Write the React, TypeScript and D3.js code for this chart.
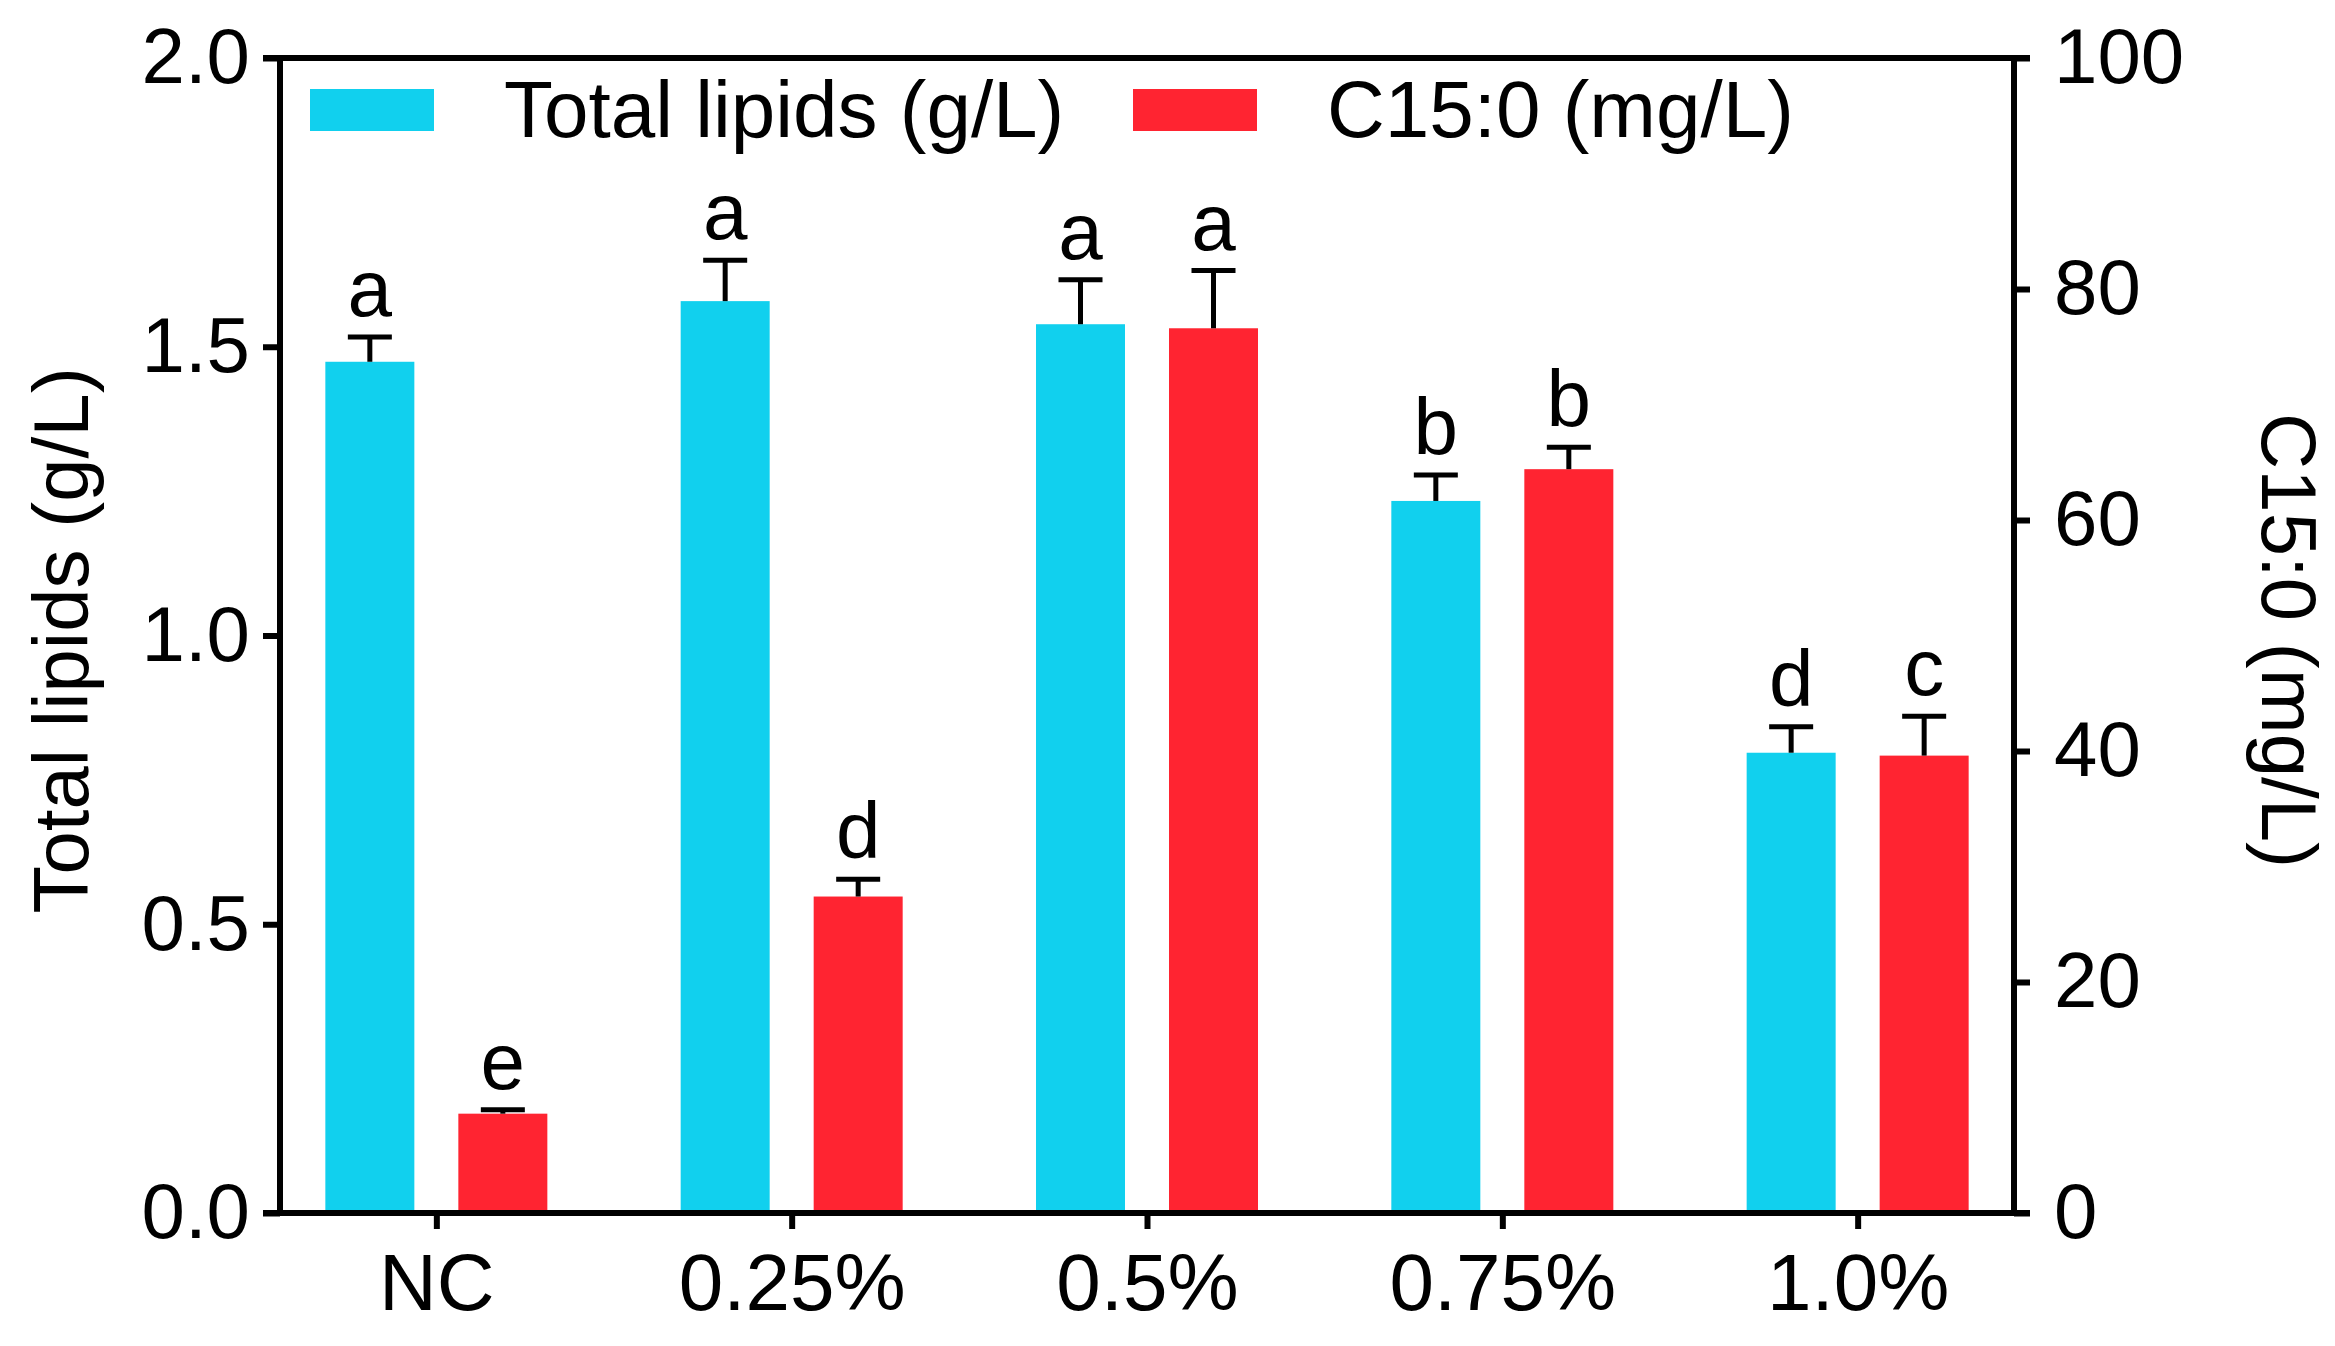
import React, { useRef, useEffect } from 'react';
import * as d3 from 'd3';

const categories = ['NC', '0.25%', '0.5%', '0.75%', '1.0%'];
const lipids = [1.474, 1.579, 1.539, 1.233, 0.797]; // g/L
const lipidsErr = [0.043, 0.071, 0.077, 0.045, 0.045];
const c15 = [8.6, 27.4, 76.6, 64.4, 39.6]; // mg/L
const c15Err = [0.35, 1.5, 5.0, 1.9, 3.4];
const lipidsLetters = ['a', 'a', 'a', 'b', 'd'];
const c15Letters = ['e', 'd', 'a', 'b', 'c'];
const leftTicks = [0, 0.5, 1.0, 1.5, 2.0];
const rightTicks = [0, 20, 40, 60, 80, 100];

const CYAN = '#11D0EE';
const RED = '#FF2431';
const FONT = '"Liberation Sans", Arial, Helvetica, sans-serif';

const App: React.FC = () => {
  const svgRef = useRef<SVGSVGElement>(null);

  useEffect(() => {
    document.body.style.margin = '0';
    const width = 2335;
    const height = 1346;
    const left = 280;
    const right = 2014;
    const top = 58;
    const bottom = 1213;
    const barW = 89;
    const barOff = 66.5;
    const axisW = 6;

    const svg = d3.select(svgRef.current);
    svg.selectAll('*').remove();
    svg.attr('width', width).attr('height', height);

    const x = d3.scalePoint<string>().domain(categories).range([left, right]).padding(0.44);
    const yL = d3.scaleLinear().domain([0, 2]).range([bottom, top]);
    const yR = d3.scaleLinear().domain([0, 100]).range([bottom, top]);

    const series = [
      { vals: lipids, errs: lipidsErr, letters: lipidsLetters, y: yL, color: CYAN, dx: -barOff },
      { vals: c15, errs: c15Err, letters: c15Letters, y: yR, color: RED, dx: barOff },
    ];

    // bars
    series.forEach((s) => {
      const g = svg.append('g');
      categories.forEach((c, i) => {
        const cx = (x(c) as number) + s.dx;
        const yTop = s.y(s.vals[i]);
        const yErr = s.y(s.vals[i] + s.errs[i]);
        g.append('rect')
          .attr('x', cx - barW / 2)
          .attr('y', yTop)
          .attr('width', barW)
          .attr('height', bottom - yTop)
          .attr('fill', s.color);
        g.append('line')
          .attr('x1', cx).attr('x2', cx)
          .attr('y1', yTop).attr('y2', yErr)
          .attr('stroke', '#000').attr('stroke-width', 5);
        g.append('line')
          .attr('x1', cx - 22).attr('x2', cx + 22)
          .attr('y1', yErr).attr('y2', yErr)
          .attr('stroke', '#000').attr('stroke-width', 5);
        g.append('text')
          .attr('x', cx)
          .attr('y', yErr - 21)
          .attr('text-anchor', 'middle')
          .attr('font-family', FONT)
          .attr('font-size', 80)
          .text(s.letters[i]);
      });
    });

    // frame
    const frame = svg.append('g').attr('stroke', '#000').attr('stroke-width', axisW);
    frame.append('line').attr('x1', left).attr('x2', left).attr('y1', top).attr('y2', bottom);
    frame.append('line').attr('x1', right).attr('x2', right).attr('y1', top).attr('y2', bottom);
    frame.append('line').attr('x1', left - 17).attr('x2', right + 16).attr('y1', top).attr('y2', top);
    frame.append('line').attr('x1', left - 17).attr('x2', right + 16).attr('y1', bottom).attr('y2', bottom);

    const styleAxis = (g: d3.Selection<SVGGElement, unknown, null, undefined>, size: number) => {
      g.select('.domain').remove();
      g.selectAll('.tick line').attr('stroke', '#000').attr('stroke-width', axisW);
      g.selectAll('.tick text').attr('fill', '#000').attr('font-family', FONT).attr('font-size', size);
    };

    svg.append('g')
      .attr('transform', `translate(${left},0)`)
      .call(d3.axisLeft(yL).tickValues(leftTicks).tickFormat(d3.format('.1f')).tickSize(17).tickPadding(13))
      .call((g) => styleAxis(g, 78));

    svg.append('g')
      .attr('transform', `translate(${right},0)`)
      .call(d3.axisRight(yR).tickValues(rightTicks).tickFormat(d3.format('d')).tickSize(16).tickPadding(24))
      .call((g) => styleAxis(g, 78));

    svg.append('g')
      .attr('transform', `translate(0,${bottom})`)
      .call(d3.axisBottom(x).tickSize(16).tickPadding(24))
      .call((g) => styleAxis(g, 80));

    // axis titles
    svg.append('text')
      .attr('transform', `translate(88,${(top + bottom) / 2 + 5}) rotate(-90)`)
      .attr('text-anchor', 'middle')
      .attr('font-family', FONT)
      .attr('font-size', 78)
      .text('Total lipids (g/L)');

    svg.append('text')
      .attr('transform', `translate(2262,${(top + bottom) / 2 + 5}) rotate(90)`)
      .attr('text-anchor', 'middle')
      .attr('font-family', FONT)
      .attr('font-size', 78)
      .text('C15:0 (mg/L)');

    // legend
    const legend = [
      { label: 'Total lipids (g/L)', color: CYAN, x: 310 },
      { label: 'C15:0 (mg/L)', color: RED, x: 1133 },
    ];
    legend.forEach((l) => {
      svg.append('rect')
        .attr('x', l.x).attr('y', 89)
        .attr('width', 124).attr('height', 42)
        .attr('fill', l.color);
      svg.append('text')
        .attr('x', l.x + 194)
        .attr('y', 137)
        .attr('font-family', FONT)
        .attr('font-size', 80)
        .text(l.label);
    });
  }, []);

  return <svg ref={svgRef} style={{ display: 'block', background: '#fff' }} />;
};

export default App;
